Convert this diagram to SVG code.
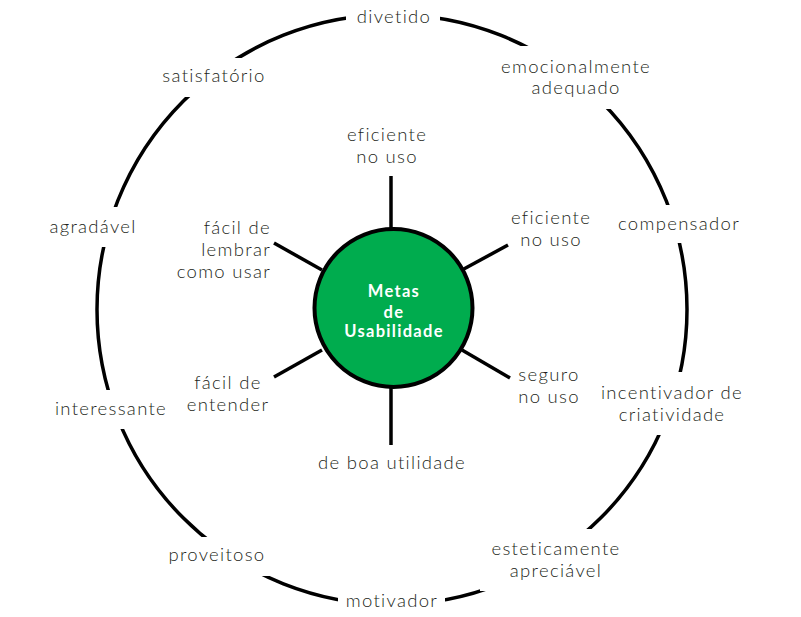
<svg xmlns="http://www.w3.org/2000/svg" width="801" height="617" viewBox="0 0 801 617">
<style>
  .lbl { font-family: Lato, "Open Sans", "Liberation Sans", sans-serif; font-size: 18.5px; font-weight: 300; letter-spacing: 1.3px; fill: #231f20; text-anchor: middle; }
  .r { text-anchor: end; }
  .ctr { font-family: Lato, "Open Sans", "Liberation Sans", sans-serif; font-size: 16.5px; font-weight: 700; letter-spacing: 1.3px; fill: #ffffff; text-anchor: middle; }
  .ln { stroke: #000; stroke-width: 3.5; fill: none; }
</style>
<defs>
  <mask id="gaps" maskUnits="userSpaceOnUse" x="0" y="0" width="801" height="617">
    <rect x="0" y="0" width="801" height="617" fill="#fff"/>
    <rect x="346" y="0" width="94" height="40" fill="#000"/>
    <rect x="150" y="58" width="110" height="39" fill="#000"/>
    <rect x="40" y="207" width="110" height="40" fill="#000"/>
    <rect x="40" y="390" width="130" height="39" fill="#000"/>
    <rect x="150" y="537" width="140" height="39" fill="#000"/>
    <rect x="338" y="580" width="107" height="37" fill="#000"/>
    <rect x="480" y="529" width="180" height="62" fill="#000"/>
    <rect x="590" y="372" width="170" height="63" fill="#000"/>
    <rect x="600" y="205" width="160" height="38" fill="#000"/>
    <rect x="480" y="46" width="200" height="63" fill="#000"/>
  </mask>
</defs>
<rect width="801" height="617" fill="#fff"/>
<g id="ring">
  <circle class="ln" cx="392" cy="309.5" r="295" mask="url(#gaps)"/>
</g>
<g id="connectors">
  <line class="ln" x1="391" y1="176" x2="391" y2="230"/>
  <line class="ln" x1="391" y1="386" x2="391" y2="445"/>
  <line class="ln" x1="274" y1="243" x2="322" y2="270"/>
  <line class="ln" x1="462" y1="270" x2="508" y2="245"/>
  <line class="ln" x1="322" y1="350" x2="274" y2="377"/>
  <line class="ln" x1="462" y1="350" x2="510" y2="378"/>
</g>
<g id="center-node">
  <circle cx="393.5" cy="308" r="79" fill="#00ac4e" stroke="#000" stroke-width="4"/>
  <text class="ctr" x="394" y="297">Metas</text>
  <text class="ctr" x="394" y="317.5">de</text>
  <text class="ctr" x="394" y="337">Usabilidade</text>
</g>
<g id="inner-top"><text class="lbl" x="387" y="141">eficiente</text><text class="lbl" x="387" y="163">no uso</text></g>
<g id="inner-top-right"><text class="lbl" x="551" y="224">eficiente</text><text class="lbl" x="551" y="246">no uso</text></g>
<g id="inner-bottom-right"><text class="lbl" x="549" y="381">seguro</text><text class="lbl" x="549" y="403">no uso</text></g>
<g id="inner-bottom"><text class="lbl" x="392" y="469">de boa utilidade</text></g>
<g id="inner-bottom-left"><text class="lbl" x="228" y="389">fácil de</text><text class="lbl" x="228" y="411">entender</text></g>
<g id="inner-top-left"><text class="lbl r" x="271" y="234">fácil de</text><text class="lbl r" x="271" y="256">lembrar</text><text class="lbl r" x="271" y="278">como usar</text></g>
<g id="outer-divetido"><text class="lbl" x="394" y="23">divetido</text></g>
<g id="outer-emocionalmente"><text class="lbl" x="576" y="73">emocionalmente</text><text class="lbl" x="576" y="94">adequado</text></g>
<g id="outer-compensador"><text class="lbl" x="679" y="230">compensador</text></g>
<g id="outer-incentivador"><text class="lbl" x="672" y="399">incentivador de</text><text class="lbl" x="672" y="421">criatividade</text></g>
<g id="outer-esteticamente"><text class="lbl" x="556" y="555">esteticamente</text><text class="lbl" x="556" y="577">apreciável</text></g>
<g id="outer-motivador"><text class="lbl" x="392" y="607">motivador</text></g>
<g id="outer-proveitoso"><text class="lbl" x="217" y="561">proveitoso</text></g>
<g id="outer-interessante"><text class="lbl" x="111" y="415">interessante</text></g>
<g id="outer-agradavel"><text class="lbl" x="93" y="233">agradável</text></g>
<g id="outer-satisfatorio"><text class="lbl" x="214" y="82">satisfatório</text></g>
</svg>
